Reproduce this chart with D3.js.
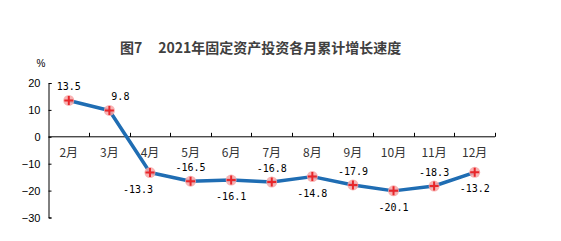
<!DOCTYPE html>
<html>
<head>
<meta charset="utf-8">
<script src="https://cdn.jsdelivr.net/npm/d3@7"></script>
<style>
  body { margin: 0; background: #fff; }
  svg { display: block; }
</style>
</head>
<body>
<div id="chart"></div>
<script>
// chart data
var months = ['2月', '3月', '4月', '5月', '6月', '7月', '8月', '9月', '10月', '11月', '12月'];
var growth = [13.5, 9.8, -13.3, -16.5, -16.1, -16.8, -14.8, -17.9, -20.1, -18.3, -13.2];
var yTicks = [20, 10, 0, -10, -20, -30];
var labelSide = ['above', 'above', 'below', 'above', 'below', 'above', 'below', 'above', 'below', 'above', 'below'];

var width = 561, height = 241;

var svg = d3.select('#chart').append('svg')
    .attr('width', width)
    .attr('height', height);

var x = d3.scaleBand()
    .domain(months)
    .range([48.5, 495]);

var y = d3.scaleLinear()
    .domain([-30, 20])
    .range([217.5, 83]);

// title
var title = svg.append('text')
    .attr('x', 120)
    .attr('y', 53)
    .style('font-family', '"Noto Sans CJK SC", sans-serif')
    .style('font-size', '14px')
    .style('font-weight', 'bold')
    .style('fill', '#404040');
title.append('tspan').text('图7');
title.append('tspan').attr('dx', 16).text('2021年固定资产投资各月累计增长速度');

// unit
svg.append('text')
    .attr('x', 41)
    .attr('y', 67)
    .attr('text-anchor', 'middle')
    .style('font-family', '"Liberation Sans", Arial, sans-serif')
    .style('font-size', '10px')
    .text('%');

// y axis
var yAxis = svg.append('g')
    .attr('transform', 'translate(48.5,0)')
    .call(d3.axisLeft(y).tickValues(yTicks).tickSize(-3).tickPadding(8));
yAxis.selectAll('text')
    .style('font-family', '"Liberation Sans", Arial, sans-serif')
    .style('font-size', '11px')
    .style('fill', '#000');
yAxis.selectAll('line, path').attr('stroke', '#000');

// x axis at zero, ticks on band boundaries
var xg = svg.append('g')
    .attr('transform', 'translate(0,' + y(0) + ')');
xg.append('line')
    .attr('x1', x.range()[0]).attr('x2', x.range()[1])
    .attr('stroke', '#000');
var bounds = months.map(function (m) { return x(m) + x.bandwidth(); });
xg.selectAll('line.tk')
    .data(bounds)
    .enter()
    .append('line')
    .attr('class', 'tk')
    .attr('x1', function (d) { return Math.round(d) + 0.5; })
    .attr('x2', function (d) { return Math.round(d) + 0.5; })
    .attr('y1', 0).attr('y2', -4)
    .attr('stroke', '#000');
xg.selectAll('text')
    .data(months)
    .enter()
    .append('text')
    .attr('x', function (d) { return x(d) + x.bandwidth() / 2; })
    .attr('y', 20)
    .attr('text-anchor', 'middle')
    .style('font-family', '"Noto Sans CJK SC", sans-serif')
    .style('font-size', '12px')
    .style('fill', '#333')
    .text(function (d) { return d; });

// line
var pts = months.map(function (m, i) {
    return { m: m, v: growth[i], side: labelSide[i] };
});
var line = d3.line()
    .x(function (d) { return x(d.m) + x.bandwidth() / 2; })
    .y(function (d) { return y(d.v); });

svg.append('path')
    .datum(pts)
    .attr('d', line)
    .attr('fill', 'none')
    .attr('stroke', '#1f6db3')
    .attr('stroke-width', 3.5)
    .attr('stroke-linejoin', 'round');

// markers
var mk = svg.selectAll('g.mk')
    .data(pts)
    .enter()
    .append('g')
    .attr('class', 'mk')
    .attr('transform', function (d) {
        return 'translate(' + (x(d.m) + x.bandwidth() / 2) + ',' + y(d.v) + ')';
    });
mk.append('circle')
    .attr('r', 5.5)
    .attr('fill', '#f7a6a6')
    .attr('opacity', 0.85);
mk.append('path')
    .attr('d', 'M-4.5,0H4.5M0,-4.5V4.5')
    .attr('stroke', '#e8262a')
    .attr('stroke-width', 2);

// value labels
svg.selectAll('text.val')
    .data(pts)
    .enter()
    .append('text')
    .attr('class', 'val')
    .attr('x', function (d, i) {
        var cx = x(d.m) + x.bandwidth() / 2;
        if (i === 1) return cx + 11;
        if (i === 2) return cx - 12;
        return cx;
    })
    .attr('y', function (d) {
        return y(d.v) + (d.side === 'above' ? -14 : 16) + 4;
    })
    .attr('text-anchor', 'middle')
    .style('font-family', '"DejaVu Sans Mono", monospace')
    .style('font-size', '10px')
    .style('fill', '#000')
    .text(function (d) { return d.v.toFixed(1); });
</script>
</body>
</html>
